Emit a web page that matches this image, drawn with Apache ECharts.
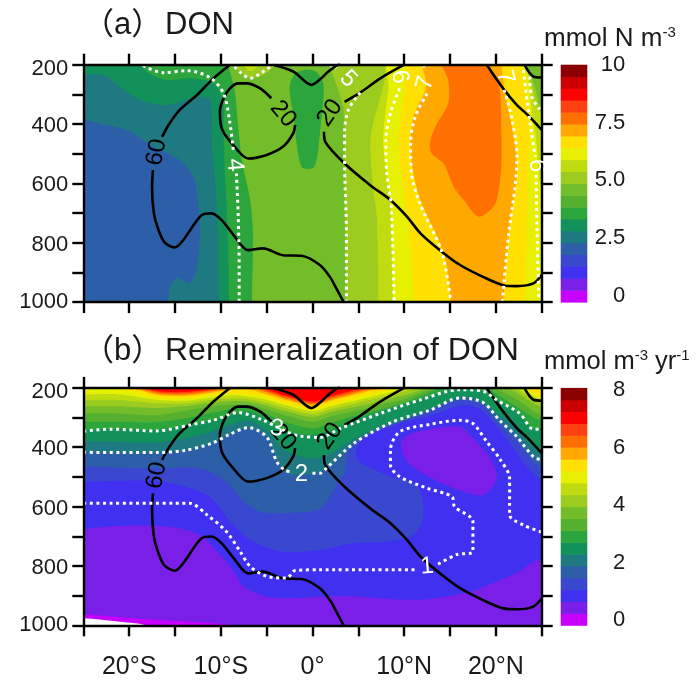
<!DOCTYPE html>
<html><head><meta charset="utf-8">
<style>html,body{margin:0;padding:0;background:#fff}#c{width:696px;height:683px}</style>
<script src="https://cdn.jsdelivr.net/npm/echarts@6/dist/echarts.min.js"></script>
</head><body><div id="c"></div>
<script>
const palette=['#c800ff','#7a1fe8','#4030f0','#3a48d0','#2c5fa8','#1e7a80','#12925a','#2ca53c','#55b030','#74bd2a','#9ccc20','#c0dc10','#e6f000','#ffe000','#ffa800','#ff7000','#ff4010','#ff0000','#cc0000','#8b0000'];
const xTicks=[-20,-10,0,10,20];
const xTickLabels=['20°S','10°S','0°','10°N','20°N'];
const depthLabels=[200,400,600,800,1000];
const cbTicksA=[0,2.5,5,7.5,10];
const cbLabelsA=['0','2.5','5.0','7.5','10'];
const cbTicksB=[0,2,4,6,8];

// ---- panel (a): filled band outlines, [lon, depth] ----
const a5=[[-26,170],[27,170],[27,1030],[-26,1030]];
const a6=[[-26,384],[-25,384],[-23.2,398],[-20.3,420],[-17.4,476],[-14.5,521],[-13,578],[-12.5,656],[-12.3,768],[-12.6,881],[-13.4,937],[-14.8,920],[-15.5,948],[-15.8,1000],[-16,1030],[27,1030],[27,170],[-26,170]];
const a7=[[-26,235],[-25,235],[-24.3,231],[-22.5,238],[-21,274],[-18.8,319],[-15.9,336],[-12.6,308],[-11.2,319],[-11,454],[-10.6,600],[-10.3,800],[-10.2,1000],[-10.2,1030],[27,1030],[27,170],[-26,170]];
const a8=[[-18.7,170],[-18.5,200],[-18.1,224],[-15.9,252],[-13.4,246],[-10.8,263],[-9.8,320],[-9.7,430],[-9.5,600],[-9.2,800],[-9.1,1000],[-9.1,1030],[27,1030],[27,170]];
const a10=[[-9.4,170],[-9.2,200],[-8.5,285],[-8.1,410],[-7.7,520],[-6.8,656],[-6.5,767],[-6.6,990],[-6.6,1030],[27,1030],[27,170]];
const a8tongue=[[-2.5,277],[-2.1,369],[-1.2,544],[0.2,544],[0.9,402],[1.2,267],[0.4,224],[-0.9,217],[-2,234]];
const a11blob=[[-8.7,170],[-8.6,200],[-7.9,225],[-6.8,245],[-5.4,235],[-4.1,200],[-4,170]];
const a12blob=[[-7.6,170],[-7.5,200],[-6.8,222],[-5.8,200],[-5.7,170]];
const a11=[[1.8,170],[1.9,200],[2.3,240],[3.4,352],[3.5,521],[3.7,1000],[3.7,1030],[27,1030],[27,390],[25,350],[24.3,280],[23.3,195],[23.2,170]];
const a12=[[7.9,170],[8,195],[7.8,260],[6.6,400],[6.3,465],[6.6,610],[7,710],[7.2,1000],[7.2,1030],[27,1030],[27,410],[24.8,360],[24,280],[23.2,195],[23.1,170]];
const a13=[[8.3,170],[8.3,274],[7.9,375],[7.7,465],[8.3,610],[8.6,710],[8.8,1000],[8.8,1030],[24.7,1030],[24.5,490],[23.9,352],[23.5,240],[22.9,195],[22.8,170]];
const a14=[[10.3,170],[10.3,200],[9.9,320],[9.4,465],[9.9,610],[10.6,790],[11.1,1000],[11.1,1030],[23.2,1030],[23.2,1000],[23.4,750],[23.5,600],[23.7,400],[23.2,260],[22.6,194],[22.5,170]];
const a15=[[11.8,170],[11.9,200],[12.4,274],[11,375],[10.7,500],[11.7,650],[14.3,835],[15.1,1000],[15.1,1030],[20.8,1030],[20.8,1000],[21.5,747],[22.3,578],[22.1,465],[21,296],[20.6,200],[20.5,170]];
const a16=[[14,170],[14.1,200],[14.8,252],[14.8,330],[13.4,409],[12.8,465],[13,499],[14.3,533],[15.4,611],[16.5,656],[18.1,712],[19.4,690],[20.1,656],[20.6,544],[20.6,431],[20.3,263],[18.8,200],[18.7,170]];

// ---- panel (b): filled band outlines ----
const b2=[[-26,170],[27,170],[27,1030],[-26,1030]];
const b1=[[-26,960],[-25,962],[-20,975],[-15,985],[-10.8,993],[-8,1005],[-8,1030],[-26,1030]];
const bMissing=[[-26,974],[-25,975],[-21,988],[-18,1002],[-18,1030],[-26,1030]];
const b3=[[-26,675],[-25,675],[-21.4,665],[-15.9,667],[-12.3,695],[-10.1,762],[-8.6,818],[-7.5,869],[-5,903],[-1.4,908],[0.8,903],[4.4,903],[11.7,914],[17.2,886],[20.1,852],[22.6,818],[24.1,785],[25,779],[27,775],[27,170],[-26,170]];
const b2island=[[9.7,381],[11.4,348],[16.1,331],[17.5,370],[19.4,438],[20.1,505],[18.6,561],[15.4,538],[11.7,482],[10.1,438]];
const b4=[[-26,516],[-25,516],[-16.6,516],[-11.5,561],[-8.6,662],[-6.5,718],[-3.2,752],[0.8,746],[4.5,723],[8.1,718],[11,695],[12.1,628],[11.4,527],[8.1,494],[4.8,438],[5.5,370],[9.5,320],[13.2,290],[16.5,258],[18.3,272],[20.1,331],[21.7,393],[23.4,466],[25,510],[27,520],[27,170],[-26,170]];
const b5=[[-26,466],[-25,466],[-17,471],[-12.3,471],[-9.4,516],[-7.5,583],[-5.7,617],[-3.2,622],[0.8,606],[2.3,544],[3.5,482],[3.9,415],[5.9,353],[9.5,303],[13.2,269],[16.1,241],[18.6,258],[20.1,314],[22.3,381],[24.1,449],[25,466],[27,475],[27,170],[-26,170]];
const bandLons=[-25,-21,-17,-14,-11,-9,-7,-5,-3,0,2,4,6,8,10,12,14,16,18,20,22,24,25];
const b6d=[417,418,418,411,387,356,334,365,482,490,460,398,359,331,309,286,258,234,241,292,353,426,443];
const b7d=[381,382,384,370,346,325,309,342,410,438,421,382,348,320,303,278,256,229,238,283,331,398,421];
const b8d=[343,338,342,327,309,292,281,305,345,358,342,317,294,274,255,235,216,203,205,238,272,334,336];
const b9d=[314,314,316,303,285,272,268,288,315,336,318,300,284,268,250,225,198,185,185,219,258,297,309];
const b10d=[286,286,292,278,262,258,256,272,292,313,296,282,268,252,238,215,190,175,175,202,234,275,292];
const b11d=[262,262,268,262,250,245,246,260,278,298,282,268,255,240,225,205,178,170,170,190,211,250,264];
const b12d=[241,241,252,252,240,235,238,250,268,288,272,258,242,228,212,195,170,170,170,180,200,238,250];
const b13d=[222,222,240,243,232,225,229,240,258,278,262,247,233,218,202,185,170,170,170,172,190,225,238];
const b14d=[205,205,231,235,224,218,220,232,250,270,253,238,224,210,196,178,170,170,170,170,182,210,228];
const b15d=[185,190,223,227,216,207,205,222,240,260,243,228,212,200,190,170,165,165,165,165,170,185,205];
const b16d=[180,185,218,222,211,200,195,215,235,255,238,222,206,195,180,165,165,165,165,165,165,170,180];
const b17d=[175,180,214,218,207,195,190,210,230,250,232,217,202,190,175,160,160,160,160,160,160,160,160];
const b18d=[170,175,210,214,203,190,185,205,225,246,228,212,198,185,170,160,160,160,160,160,160,160,160];

// ---- contours shared by both panels ----
const c60a=[[-9,200],[-10.8,246],[-12.6,302],[-14.5,353],[-15.7,403],[-16.4,443]];
const c60b=[[-17.4,555],[-17.5,611],[-17.3,701],[-16.8,757],[-16.1,800],[-15,816],[-14.1,791],[-12.1,707],[-11,701],[-9.9,724],[-8.6,774],[-7,825],[-5.4,819],[-3.2,842],[-1.2,844],[0.8,875],[1.9,915],[2.6,954],[3.4,1000]];
const c20loop=[[-4.5,313],[-5.7,280],[-7.2,263],[-8.1,263],[-9,280],[-9.7,313],[-10.1,358],[-9.9,415],[-8.8,465],[-7,516],[-5,504],[-3.2,476],[-2.1,431],[-1.9,403]];
const c20top=[[-4.3,200],[-2.1,223],[-0.1,268],[0.8,250],[1.7,224],[2.6,203],[3,198]];
const c20up=[[10,200],[7.4,246],[5.2,294],[3.5,325]];
const c20down=[[1.25,426],[1.4,460],[3.5,533],[6.3,606],[8.5,656],[10.3,712],[11.8,769],[14.1,830],[16.1,875],[18.6,915],[20.8,943],[22.3,946],[24.1,937],[25,909]];
const c20east=[[19,200],[20.8,280],[22.3,336],[23.5,370],[25,420]];
const c20corner=[[23.1,200],[24.1,240],[25,243]];
const blackSegs=[c60a,c60b,c20loop,c20top,c20up,c20down,c20east,c20corner];
const blackLabels=[[-17,495,'60',80],[-3.2,366,'20',-50],[1.9,363,'20',55]];

const w4a=[[-18.5,203],[-16.3,227],[-13.7,220],[-11.2,243],[-9.7,297],[-9,398],[-8.6,499]];
const w4b=[[-8.3,566],[-8.1,710],[-8,881],[-8,1000]];
const w5blob=[[-8.5,207],[-7.8,228],[-6.8,246],[-5.6,228],[-4.3,200]];
const w5up=[[1.9,200],[2.6,212]];
const w5=[[5.2,294],[3.9,353],[3.5,431],[3.5,521],[3.7,769],[3.7,1000]];
const w6=[[9.5,280],[8.5,364],[8,454],[8.1,566],[8.6,678],[8.9,1000]];
const w7up=[[12.1,200],[12.3,220]];
const w7=[[12.5,297],[11.2,375],[10.7,465],[10.8,566],[11.7,667],[14.1,830],[15.1,1000]];
const w7e=[[20.9,285],[21.7,375],[22.3,510],[22.1,611],[21.4,769],[20.7,1000]];
const w6ea=[[23,218],[23.4,320],[23.9,431],[24.3,510]];
const w6eb=[[24.4,572],[24.5,769],[24.7,1000]];
const wCorner=[[23.7,240],[23.9,308],[24.8,350]];
const whiteA=[w4a,w4b,w5blob,w5up,w5,w6,w7up,w7,w7e,w6ea,w6eb,wCorner];
const whiteLabelsA=[[-8.5,538,'4',-85],[3.9,248,'5',-45],[9.5,241,'6',-78],[12.3,262,'7',75],[21,241,'7',-75],[24.5,540,'6',-90]];

const d3=[[-25,346],[-22.1,339],[-17,345],[-13.4,325],[-10.8,309],[-8.1,283],[-5.4,309],[-2.8,348],[-1.4,362],[0.8,367],[3,337],[7.4,286],[11.7,241],[16.1,206],[18.6,211],[20.1,241],[22.6,286],[24.1,339],[25,339]];
const d2a=[[-25,417],[-21,418],[-17,418],[-14,411],[-11,387],[-9,356],[-7,334],[-5,365],[-3.9,449],[-3,478],[-2.4,482]];
const d2b=[[0,488],[0.8,488],[1.5,471],[4.5,387],[8.8,314],[12.8,275],[16.1,234],[18.6,249],[20.4,309],[22.3,365],[24.1,432],[25,443]];
const d1a=[[-25,589],[-13.4,589],[-11.5,628],[-9.4,684],[-7.9,751],[-6.8,802],[-5,835],[-2.8,841],[-1.9,815],[0.8,813],[11.4,813]];
const d1b=[[13.7,794],[15.7,762],[17.5,751],[17.5,650],[15.5,600],[15.2,566],[12.5,538],[9.5,499],[8.5,460],[8.5,410],[9.5,348],[12.8,323],[16.1,309],[17.5,320],[19,381],[20.4,438],[21.5,505],[21.5,628],[23,662],[25,686]];
const whiteB=[d3,d2a,d2b,d1a,d1b];
const whiteLabelsB=[[-3.9,337,'3',-10],[-1.2,490,'2',0],[12.5,802,'1',5]];

// ---- helpers that only build options from the arrays above ----
const FONT='"Liberation Sans","Noto Sans CJK SC",sans-serif';
const stationBand=d=>bandLons.map((x,i)=>[x,d[i]]).concat([[27,d[d.length-1]],[27,120],[-27,120],[-27,d[0]]]);
const layersA=[[5,a5],[6,a6],[7,a7],[8,a8],[10,a10],[8,a8tongue],[11,a11blob],[12,a12blob],[11,a11],[12,a12],[13,a13],[14,a14],[15,a15],[16,a16]];
const layersB=[[2,b2],[1,b1],[0,bMissing],[3,b3],[2,b2island],[4,b4],[5,b5],[6,stationBand(b6d)],[7,stationBand(b7d)],[8,stationBand(b8d)],[9,stationBand(b9d)],[10,stationBand(b10d)],[11,stationBand(b11d)],[12,stationBand(b12d)],[13,stationBand(b13d)],[14,stationBand(b14d)],[15,stationBand(b15d)],[16,stationBand(b16d)],[17,stationBand(b17d)],[18,stationBand(b18d)]];

function fillSeries(layers,ax){return {type:'custom',xAxisIndex:ax,yAxisIndex:ax,clip:true,silent:true,z:2,animation:false,
  data:layers.map(()=>[0,600]),
  renderItem:(p,api)=>{const L=layers[p.dataIndex];return {type:'polygon',shape:{points:L[1].map(q=>api.coord(q)),smooth:0.3},style:{fill:L[0]?palette[L[0]-1]:'#fff',stroke:null}};}};}
function lineSeries(seg,ax,color,white){return {type:'line',xAxisIndex:ax,yAxisIndex:ax,data:seg,symbol:'none',smooth:0.3,silent:true,animation:false,z:white?4:3,
  lineStyle:white?{color,width:3,type:[3,3.6]}:{color,width:2.6}};}
function labelSeries(labels,ax,color){return {type:'custom',xAxisIndex:ax,yAxisIndex:ax,silent:true,z:6,animation:false,clip:false,
  data:labels.map(l=>[l[0],l[1]]),
  renderItem:(p,api)=>{const l=labels[p.dataIndex];const c=api.coord([l[0],l[1]]);return {type:'text',x:c[0],y:c[1],rotation:l[3]*Math.PI/180,style:{text:l[2],fill:color,font:'24px "Liberation Sans"',align:'center',verticalAlign:'middle'}};}};}
function colorbarSeries(ax,min,max){const bands=palette.map((c,i)=>i);return {type:'custom',xAxisIndex:ax,yAxisIndex:ax,silent:true,animation:false,z:2,
  data:bands.map(i=>[0,i]),
  renderItem:(p,api)=>{const i=p.dataIndex,s=(max-min)/20;const a=api.coord([0,min+i*s]),b=api.coord([1,min+(i+1)*s]);return {type:'rect',shape:{x:a[0],y:b[1],width:b[0]-a[0],height:a[1]-b[1]+0.5},style:{fill:palette[i]}};}};}

const L=83.3,W=458.4,H=237.4;
const grids=[{left:L,top:64.7,width:W,height:H},{left:L,top:387.9,width:W,height:H},{left:560.7,top:64.7,width:26.6,height:H},{left:560.7,top:387.9,width:26.6,height:H}];
const axLine={show:true,onZero:false,lineStyle:{color:'#000',width:2.4}};
const axTick={show:true,inside:false,length:11,lineStyle:{color:'#000',width:2.4}};
const xAx=(g,pos,labels)=>({type:'value',gridIndex:g,position:pos,min:-25,max:25,interval:5,z:5,splitLine:{show:false},axisLine:axLine,axisTick:axTick,
  axisLabel:labels?{show:true,margin:29,fontSize:25,fontFamily:FONT,color:'#1a1a1a',formatter:v=>{const i=xTicks.indexOf(v);return i<0?'':xTickLabels[i];}}:{show:false}});
const yAx=(g,pos,labels)=>({type:'value',gridIndex:g,position:pos,inverse:true,min:200,max:1000,interval:100,z:5,splitLine:{show:false},axisLine:axLine,axisTick:axTick,
  axisLabel:labels?{show:true,margin:15,fontFamily:FONT,color:'#1a1a1a',fontSize:22,
    rich:{t:{fontSize:22,fontFamily:FONT,color:'#1a1a1a',padding:[9,0,0,0]},n:{fontSize:22,fontFamily:FONT,color:'#1a1a1a',padding:[4,0,0,0]},e:{fontSize:22,fontFamily:FONT,color:'#1a1a1a'}},
    formatter:v=>depthLabels.indexOf(v)<0?'':`{${v===200?'t':v===1000?'e':'n'}|${v}}`}:{show:false}});
const cbX=g=>({type:'value',gridIndex:g,min:0,max:1,show:false});
const cbY=(g,min,max,ticks,labels)=>({type:'value',gridIndex:g,position:'right',min,max,z:5,splitLine:{show:false},axisLine:{show:false},axisTick:{show:false},
  axisLabel:{show:true,customValues:ticks,align:'right',margin:38,fontSize:22,fontFamily:FONT,color:'#1a1a1a',showMinLabel:true,showMaxLabel:true,
   formatter:v=>labels?labels[ticks.indexOf(v)]:String(v)}});

const series=[fillSeries(layersA,0),fillSeries(layersB,2)];
[0,2].forEach(ax=>blackSegs.forEach(s=>series.push(lineSeries(s,ax,'#000',false))));
whiteA.forEach(s=>series.push(lineSeries(s,0,'#fff',true)));
whiteB.forEach(s=>series.push(lineSeries(s,2,'#fff',true)));
series.push(labelSeries(blackLabels,0,'#000'),labelSeries(blackLabels,2,'#000'),labelSeries(whiteLabelsA,0,'#fff'),labelSeries(whiteLabelsB,2,'#fff'));
series.push(colorbarSeries(4,-0.26,10),colorbarSeries(5,-0.17,8.08));

const tt=(text,left,top,size,rich)=>({text,left,top,padding:0,textStyle:{fontFamily:FONT,fontSize:size,fontWeight:'normal',color:'#1a1a1a',rich}});
const sup=(n)=>({n:{fontSize:n,fontFamily:FONT,color:'#1a1a1a',lineHeight:28},s:{fontSize:15,fontFamily:FONT,color:'#1a1a1a',verticalAlign:'top',lineHeight:28}});
const chart=echarts.init(document.getElementById('c'),null,{renderer:'canvas'});
chart.setOption({animation:false,backgroundColor:'#fff',
 title:[tt('（a）',83,10,31),tt('DON',165,10,31),tt('（b）',83,336,31),tt('Remineralization of DON',165,335,32),
   tt('{n|mmol N m}{s|-3}',544,25,26,sup(26)),tt('{n|mmol m}{s|-3}{n| yr}{s|-1}',544,348,25.5,sup(25.5))],
 grid:grids,
 xAxis:[xAx(0,'bottom',false),xAx(0,'top',false),xAx(1,'bottom',true),xAx(1,'top',false),cbX(2),cbX(3)],
 yAxis:[yAx(0,'left',true),yAx(0,'right',false),yAx(1,'left',true),yAx(1,'right',false),cbY(2,-0.26,10,cbTicksA,cbLabelsA),cbY(3,-0.17,8.08,cbTicksB,null)],
 series});
</script></body></html>
